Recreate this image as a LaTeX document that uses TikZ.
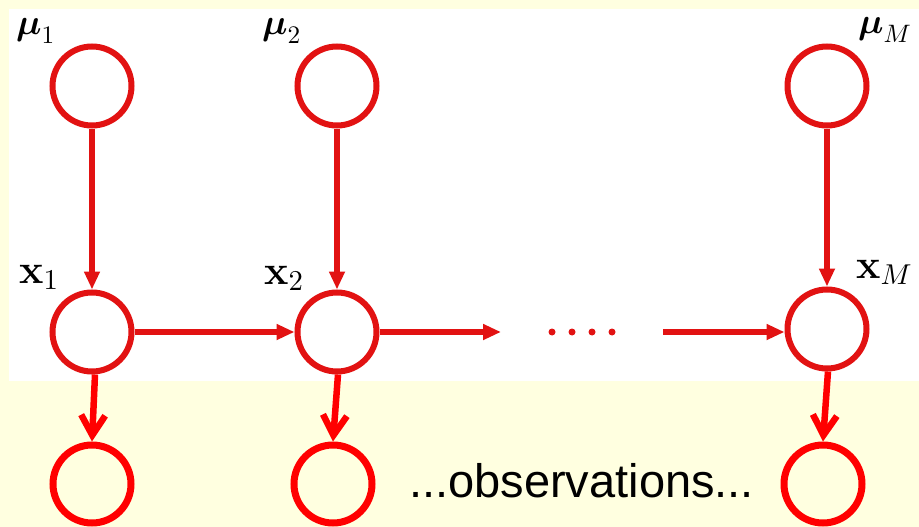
\documentclass[tikz,border=0pt]{standalone}
\usepackage{amsmath,amsbsy}
\usepackage{fontspec}
\DeclareFontShape{OML}{cmm}{m}{it}{<->cmmi10}{}
\DeclareFontShape{OML}{cmm}{b}{it}{<->cmmib10}{}
\DeclareFontShape{OMS}{cmsy}{m}{n}{<->cmsy10}{}
\DeclareFontShape{OMS}{cmsy}{b}{n}{<->cmbsy10}{}
\DeclareFontShape{OT1}{cmr}{m}{n}{<->cmr10}{}
\DeclareFontShape{OT1}{cmr}{bx}{n}{<->cmbx10}{}
\newfontfamily\obsfont{Liberation Sans}
\usetikzlibrary{arrows.meta}
\definecolor{bgyellow}{RGB}{255,255,224}
\definecolor{topred}{RGB}{226,18,18}
\definecolor{botred}{RGB}{255,0,0}
\tikzset{
  topnode/.style={circle,draw=topred,line width=6pt,fill=white,inner sep=0pt,minimum size=79pt},
  botnode/.style={circle,draw=botred,line width=7pt,inner sep=0pt,minimum size=78pt},
  toparrow/.style={draw=topred,line width=5.2pt,-{Triangle[length=18pt,width=15pt]}},
  botarrow/.style={draw=botred,line width=6.5pt,-{Straight Barb[length=20pt,width=24pt]}},
  lbl/.style={anchor=base west,inner sep=0pt,font=\fontsize{36}{40}\selectfont},
  xlbl/.style={anchor=base west,inner sep=0pt,font=\fontsize{41}{44}\selectfont},
  dotmark/.style={circle,fill=topred,inner sep=0pt,minimum size=7pt}
}
\begin{document}
\begin{tikzpicture}[x=1pt,y=-1pt]
\useasboundingbox (0,0) rectangle (919,527);
\fill[bgyellow] (0,0) rectangle (919,527);
\fill[white] (9,9) rectangle (919,381);
% top row
\node[topnode] (m1) at (92,86) {};
\node[topnode] (m2) at (337,86) {};
\node[topnode] (mM) at (827,86) {};
% middle row
\node[topnode] (x1) at (92,332) {};
\node[topnode] (x2) at (337,332) {};
\node[topnode] (xM) at (827,329) {};
% bottom row
\node[botnode] (o1) at (92,484) {};
\node[botnode] (o2) at (333,484) {};
\node[botnode] (oM) at (823,484) {};
% labels
\node[lbl] (lm1) at (16,35) {$\boldsymbol{\mu}_1$};
\node[lbl] (lm2) at (262,35) {$\boldsymbol{\mu}_2$};
\node[lbl] (lmM) at (858,34) {$\boldsymbol{\mu}_M$};
\node[xlbl] (lx1) at (19,283) {$\textbf{x}_1$};
\node[xlbl] (lx2) at (264,284) {$\textbf{x}_2$};
\node[xlbl] (lxM) at (856,278) {$\textbf{x}_M$};
\node[anchor=base west,inner sep=0pt,font=\obsfont\fontsize{47}{50}\selectfont] (obs) at (409,497) {...observations...};
% vertical arrows
\draw[toparrow] (m1) -- (x1);
\draw[toparrow] (m2) -- (x2);
\draw[toparrow] (mM) -- (xM);
% horizontal chain
\coordinate (c1) at (501,332);
\coordinate (c2) at (663,332);
\draw[toparrow] (x1) -- (x2);
\draw[toparrow] (x2.east) -- (c1);
\draw[toparrow] (c2) -- (xM.west |- c2);
\node[dotmark] (d1) at (552,332) {};
\node[dotmark] (d2) at (572,332) {};
\node[dotmark] (d3) at (592,332) {};
\node[dotmark] (d4) at (612,332) {};
% observation arrows
\draw[botarrow] ([xshift=3pt]x1.south) -- (o1.north);
\draw[botarrow] ([xshift=1pt]x2.south) -- (o2.north);
\draw[botarrow] ([xshift=1pt]xM.south) -- (oM.north);
\end{tikzpicture}
\end{document}
